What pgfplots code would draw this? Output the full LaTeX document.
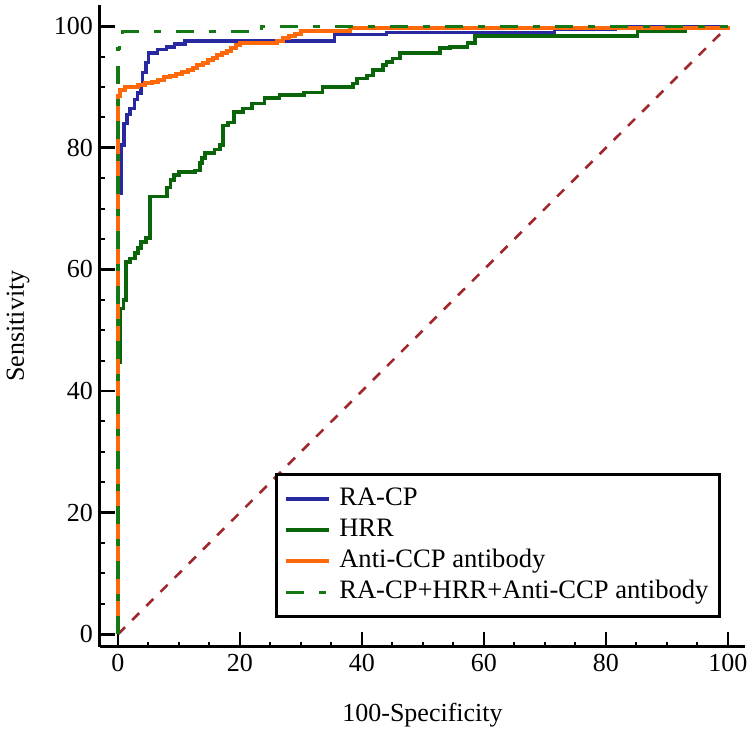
\documentclass[border=0pt]{standalone}
\usepackage{fontspec}
\setmainfont{Liberation Serif}
\usepackage{pgfplots}
\pgfplotsset{compat=1.18}
\definecolor{cblue}{RGB}{40,40,160}
\definecolor{cgreen}{RGB}{10,100,10}
\definecolor{corange}{RGB}{255,105,10}
\definecolor{cdash}{RGB}{20,120,20}
\definecolor{cdiag}{RGB}{160,40,45}
\begin{document}
\begin{tikzpicture}
\begin{axis}[
 scale only axis, width=322.5pt, height=321pt,
 xmin=-2.95, xmax=102.8, ymin=-2.1, ymax=103.5,
 axis x line*=bottom, axis y line*=left,
 axis line style={line width=1.5pt,-},
 xtick={0,20,...,100}, ytick={0,20,...,100},
 minor x tick num=3, minor y tick num=3,
 tick align=inside,
 major tick length=7.5pt, minor tick length=2.5pt,
 major tick style={black, line width=1.4pt},
 minor tick style={black, line width=1pt},
 /pgf/number format/assume math mode=true,
 tick label style={font=\fontsize{13}{15}\selectfont},
 label style={font=\fontsize{13}{15}\selectfont},
 xlabel={100-Specificity}, ylabel={Sensitivity},
 xlabel style={at={(axis description cs:0.5,-0.106)}, anchor=center},
 ylabel style={at={(axis description cs:-0.127,0.5)}, anchor=center},
 legend style={at={(rel axis cs:0.271,0.045)}, anchor=south west, draw=black, line width=1.5pt,
   font=\fontsize{13.3}{16}\selectfont, inner xsep=4pt, inner ysep=4.5pt, row sep=0pt,
   nodes={inner sep=1.5pt, text height=9.5pt, text depth=3pt},
   /tikz/every odd column/.append style={column sep=2.5pt}},
 legend cell align=left,
 legend image code/.code={\draw[#1] (0pt,0pt) -- (21.5pt,0pt);},
]
\coordinate (bl) at (rel axis cs:0,0);
\coordinate (tr) at (rel axis cs:1,1);
\addplot[color=cdiag, line width=1.3pt, dash pattern=on 5pt off 5pt, forget plot] coordinates {(0,0) (100,100)};
\addplot[color=cblue, line width=1.7pt] coordinates {
(0,0) (0,72.5) (0.5,72.5) (0.5,80.5) (1,80.5) (1,84) (1.5,84) (1.5,85.5) (2,85.5) (2,86.5)
(2.7,86.5) (2.7,88) (3.2,88) (3.2,89) (3.8,89) (3.8,90.3) (4,90.3) (4,92.4) (4.6,92.4) (4.6,94)
(5,94) (5,95.6) (6.5,95.6) (6.5,96.2) (8,96.2) (8,96.6) (9.3,96.6) (9.3,97.1) (11,97.1) (11,97.6)
(35.5,97.6) (35.5,98.6) (44,98.6) (44,99) (71.6,99) (71.6,99.5) (81.5,99.5) (81.5,100) (100,100)};
\addlegendentry{RA-CP}
\addplot[color=cgreen, line width=1.8pt] coordinates {
(0,0) (0,44.7) (0.4,44.7) (0.4,53.6) (0.9,53.6) (0.9,55) (1.3,55) (1.3,61.2) (2,61.2) (2,61.8)
(2.8,61.8) (2.8,62.7) (3.3,62.7) (3.3,63.5) (3.8,63.5) (3.8,64.5) (4.6,64.5) (4.6,65.2) (5.2,65.2)
(5.2,72) (8,72) (8,73.5) (8.6,73.5) (8.6,74.7) (9.2,74.7) (9.2,75.5) (10,75.5) (10,76) (12.6,76)
(12.6,76.3) (13.4,76.3) (13.4,77.5) (13.8,77.5) (13.8,78.3) (14.3,78.3) (14.3,79.2) (15.8,79.2)
(15.8,79.7) (16.7,79.7) (16.7,80.5) (17.2,80.5) (17.2,83.7) (18,83.7) (18,84.2) (19,84.2)
(19,85.9) (20.5,85.9) (20.5,86.5) (22,86.5) (22,87.3) (24,87.3) (24,88.2) (26.5,88.2) (26.5,88.7)
(30.5,88.7) (30.5,89.1) (33.5,89.1) (33.5,90) (38.5,90) (38.5,90.6) (39.2,90.6) (39.2,91.4)
(40.8,91.4) (40.8,91.9) (41.8,91.9) (41.8,92.8) (43.4,92.8) (43.4,93.6) (44,93.6) (44,94.1)
(45,94.1) (45,94.7) (46.2,94.7) (46.2,95.6) (52.8,95.6) (52.8,96.4) (54.4,96.4) (54.4,96.6)
(57.3,96.6) (57.3,97.2) (58.5,97.2) (58.5,98.4) (85.2,98.4) (85.2,99.2) (93,99.2) (93,99.6)
(100,99.6) (100,100)};
\addlegendentry{HRR}
\addplot[color=corange, line width=2pt] coordinates {
(0,0) (0,88.6) (0.3,88.6) (0.3,89.5) (1.1,89.5) (1.1,90) (3.3,90) (3.3,90.3) (4.5,90.3) (4.5,90.6)
(5.5,90.6) (5.5,90.9) (6.5,90.9) (6.5,91.2) (7.5,91.2) (7.5,91.6) (8.5,91.6) (8.5,91.9) (9.5,91.9)
(9.5,92.2) (10.5,92.2) (10.5,92.5) (11.5,92.5) (11.5,92.8) (12.3,92.8) (12.3,93.2) (13,93.2)
(13,93.6) (14,93.6) (14,94) (14.8,94) (14.8,94.4) (15.5,94.4) (15.5,94.8) (16.3,94.8) (16.3,95.2)
(17,95.2) (17,95.6) (17.8,95.6) (17.8,96) (18.5,96) (18.5,96.5) (19.3,96.5) (19.3,96.9) (20,96.9)
(20,97.2) (26,97.2) (26,97.6) (27,97.6) (27,98) (28,98) (28,98.4) (29,98.4) (29,98.8) (30,98.8)
(30,99.3) (38,99.3) (38,99.7) (100,99.7) (100,100)};
\addlegendentry{Anti-CCP antibody}
\addplot[color=cdash, line width=1.6pt, dash pattern=on 9pt off 7.5pt on 3.5pt off 7.5pt] coordinates {
(0,0) (0,96.4) (0.3,96.4) (0.3,98) (0.8,98) (0.8,99.1) (23.5,99.1) (23.5,100) (100,100)};
\addlegendentry{RA-CP+HRR+Anti-CCP antibody\hspace{3.5pt}}
\end{axis}
\pgfresetboundingbox
\path[use as bounding box] ([shift={(-50pt,-42.5pt)}]bl) rectangle ([shift={(2.5pt,2.5pt)}]tr);
\end{tikzpicture}
\end{document}
